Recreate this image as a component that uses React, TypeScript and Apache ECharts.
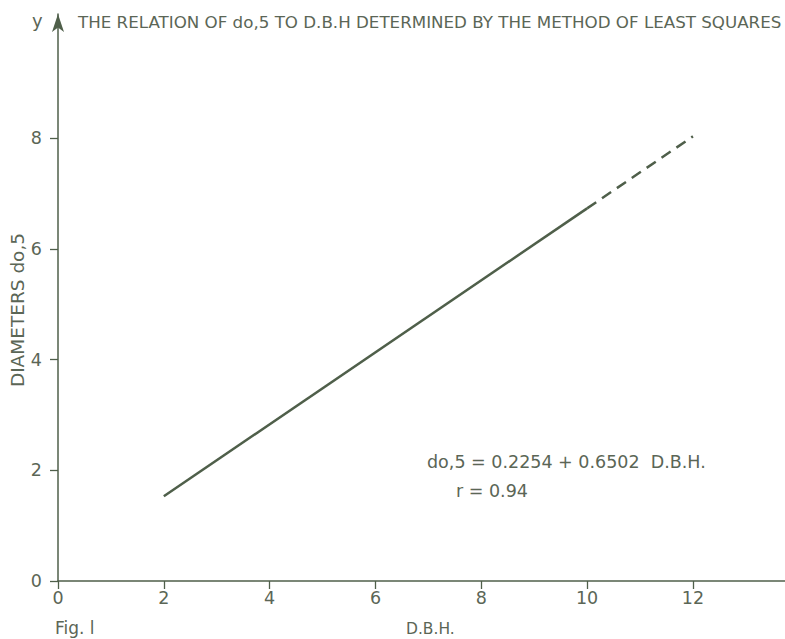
import React, { useEffect, useRef } from "react";
import * as echarts from "echarts";

const xTicks = [0, 2, 4, 6, 8, 10, 12];
const yTicks = [0, 2, 4, 6, 8];
const solidLine: [number, number][] = [[2, 1.53], [10, 6.73]];
const dashedLine: [number, number][] = [[10, 6.73], [12, 8.03]];
const titleText = "THE RELATION OF do,5 TO D.B.H DETERMINED BY THE METHOD OF LEAST SQUARES";
const equationText = "do,5 = 0.2254 + 0.6502  D.B.H.";
const rText = "r = 0.94";
const yName = "DIAMETERS do,5";
const xName = "D.B.H.";
const figLabel = "Fig. l";

const INK = "#4f5f4a";
const TEXT = "#5b6656";
const FONT = "'DejaVu Sans', 'Liberation Sans', sans-serif";

export default function App() {
  const ref = useRef<HTMLDivElement>(null);
  useEffect(() => {
    if (!ref.current) return;
    const chart = echarts.init(ref.current, undefined, { renderer: "svg" });
    chart.setOption({
      animation: false,
      backgroundColor: "#ffffff",
      grid: { left: 58, right: 0, top: 14, bottom: 58 },
      xAxis: {
        type: "value",
        min: 0,
        max: 13.74,
        interval: 2,
        splitLine: { show: false },
        axisLine: { show: true, lineStyle: { color: INK, width: 1.5 } },
        axisTick: { show: true, length: 8, customValues: xTicks, lineStyle: { color: INK, width: 1.3 } },
        axisLabel: {
          color: TEXT,
          fontSize: 17.5,
          fontFamily: FONT,
          margin: 8,
          customValues: xTicks,
        },
      },
      yAxis: {
        type: "value",
        min: 0,
        max: 10.24,
        interval: 2,
        splitLine: { show: false },
        axisLine: {
          show: true,
          symbol: ["none", "arrow"],
          symbolSize: [9, 18],
          lineStyle: { color: INK, width: 1.5 },
        },
        axisTick: { show: true, length: 8, customValues: yTicks, lineStyle: { color: INK, width: 1.3 } },
        axisLabel: {
          color: TEXT,
          fontSize: 17.5,
          fontFamily: FONT,
          margin: 16,
          padding: [0, 0, 4, 0],
          customValues: yTicks,
        },
      },
      series: [
        {
          type: "line",
          data: solidLine,
          symbol: "none",
          lineStyle: { color: INK, width: 2.5 },
        },
        {
          type: "line",
          data: dashedLine,
          symbol: "none",
          lineStyle: { color: INK, width: 2.5, type: [11, 7] },
        },
      ],
      graphic: [
        {
          type: "text",
          left: 78,
          top: 13,
          style: { text: titleText, fill: TEXT, font: `16.7px ${FONT}` },
        },
        {
          type: "text",
          left: 32,
          top: 11,
          style: { text: "y", fill: TEXT, font: `18px ${FONT}` },
        },
        {
          type: "text",
          x: 17,
          y: 310,
          rotation: Math.PI / 2,
          style: {
            text: yName,
            fill: TEXT,
            font: `18.5px ${FONT}`,
            align: "center",
            verticalAlign: "middle",
          },
        },
        {
          type: "text",
          left: 427,
          top: 453,
          style: { text: equationText, fill: TEXT, font: `17.5px ${FONT}` },
        },
        {
          type: "text",
          left: 456,
          top: 482,
          style: { text: rText, fill: TEXT, font: `17.5px ${FONT}` },
        },
        {
          type: "text",
          left: 406,
          top: 621,
          style: { text: xName, fill: TEXT, font: `15.5px ${FONT}` },
        },
        {
          type: "text",
          left: 55,
          top: 619,
          style: { text: figLabel, fill: TEXT, font: `17px ${FONT}` },
        },
      ],
    });
    return () => chart.dispose();
  }, []);
  return <div ref={ref} style={{ width: 785, height: 639, position: "absolute", left: 0, top: 0 }} />;
}
